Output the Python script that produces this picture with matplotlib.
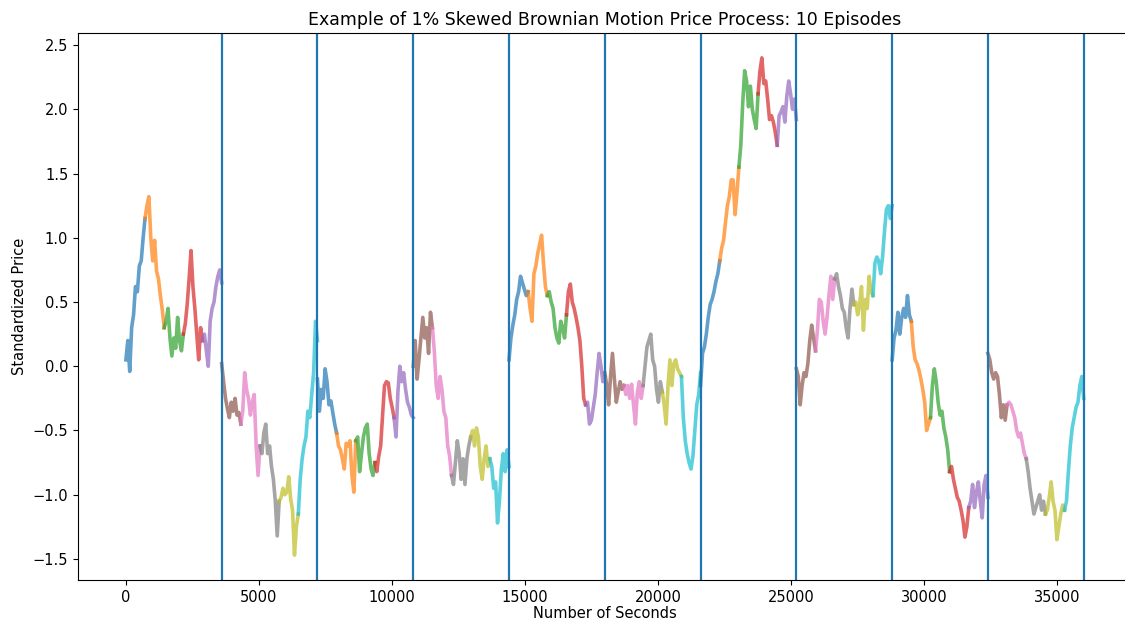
import matplotlib.pyplot as plt
import numpy as np

# standardized price per episode, sampled every 72 s (51 points -> 5 segments of 720 s)
ep1 = [0.05, 0.20, -0.04, 0.30, 0.40, 0.62, 0.58, 0.78, 0.82, 1.00, 1.15,
       1.25, 1.32, 1.00, 0.82, 0.98, 0.74, 0.68, 0.55, 0.44, 0.30,
       0.35, 0.45, 0.22, 0.08, 0.22, 0.14, 0.38, 0.20, 0.12, 0.25,
       0.33, 0.48, 0.68, 0.90, 0.62, 0.45, 0.25, 0.05, 0.30, 0.20,
       0.25, 0.12, 0.00, 0.35, 0.45, 0.50, 0.62, 0.70, 0.75, 0.65]
ep2 = [0.02, -0.12, -0.25, -0.33, -0.40, -0.28, -0.35, -0.25, -0.38, -0.36, -0.45,
       -0.35, -0.05, -0.18, -0.25, -0.38, -0.28, -0.22, -0.62, -0.85, -0.62,
       -0.68, -0.52, -0.45, -0.68, -0.62, -0.78, -0.88, -1.05, -1.32, -1.05,
       -1.02, -0.95, -1.00, -0.98, -0.86, -1.03, -1.12, -1.47, -1.25, -1.15,
       -0.88, -0.72, -0.62, -0.55, -0.35, -0.40, -0.22, -0.05, 0.35, 0.20]
ep3 = [-0.10, -0.35, -0.18, -0.25, -0.02, -0.12, -0.30, -0.27, -0.36, -0.45, -0.52,
       -0.62, -0.65, -0.72, -0.80, -0.60, -0.62, -0.58, -0.85, -0.98, -0.58,
       -0.55, -0.82, -0.68, -0.55, -0.48, -0.45, -0.68, -0.80, -0.85, -0.75,
       -0.82, -0.70, -0.62, -0.38, -0.15, -0.12, -0.13, -0.25, -0.32, -0.40,
       -0.55, -0.20, 0.00, -0.12, -0.05, -0.18, -0.28, -0.32, -0.38, -0.40]
ep4 = [0.00, 0.20, -0.10, 0.05, 0.22, 0.38, 0.22, 0.30, 0.10, 0.42, 0.30,
       0.12, -0.15, -0.25, -0.08, -0.18, -0.35, -0.40, -0.62, -0.70, -0.85,
       -0.92, -0.75, -0.58, -0.68, -0.88, -0.72, -0.92, -0.72, -0.62, -0.55,
       -0.50, -0.62, -0.48, -0.55, -0.78, -0.88, -0.72, -0.62, -0.78, -0.72,
       -0.78, -0.95, -0.90, -1.22, -1.05, -0.80, -0.68, -0.82, -0.65, -0.78]
ep5 = [0.05, 0.22, 0.32, 0.40, 0.52, 0.58, 0.70, 0.65, 0.60, 0.55, 0.58,
       0.45, 0.35, 0.72, 0.78, 0.88, 0.95, 1.02, 0.80, 0.62, 0.55,
       0.58, 0.50, 0.45, 0.30, 0.22, 0.18, 0.35, 0.30, 0.22, 0.40,
       0.58, 0.64, 0.50, 0.45, 0.38, 0.30, 0.20, 0.00, -0.25, -0.30,
       -0.28, -0.45, -0.42, -0.32, -0.22, -0.05, 0.10, 0.00, -0.12, -0.08]
ep6 = [-0.05, -0.15, -0.30, -0.08, 0.10, -0.10, -0.28, -0.20, -0.12, -0.18, -0.15,
       -0.22, -0.15, -0.25, -0.14, -0.30, -0.45, -0.20, -0.12, -0.25, -0.15,
       0.00, 0.15, 0.20, 0.25, 0.05, 0.00, -0.18, -0.28, -0.12, -0.20,
       -0.30, -0.45, -0.15, 0.05, -0.15, 0.02, 0.05, -0.02, -0.05, -0.08,
       -0.40, -0.58, -0.68, -0.75, -0.80, -0.70, -0.50, -0.30, -0.22, -0.05]
ep7 = [-0.15, 0.10, 0.15, 0.25, 0.38, 0.48, 0.52, 0.58, 0.66, 0.72, 0.82,
       0.92, 0.98, 1.12, 1.25, 1.32, 1.45, 1.45, 1.18, 1.35, 1.55,
       1.72, 2.05, 2.30, 2.22, 2.02, 2.18, 2.00, 1.92, 1.85, 2.12,
       2.30, 2.40, 2.20, 2.22, 2.08, 1.92, 1.95, 1.90, 1.82, 1.72,
       1.95, 1.98, 2.02, 1.90, 2.10, 2.22, 2.12, 2.00, 2.08, 1.92]
ep8 = [-0.02, -0.08, -0.30, -0.15, -0.05, -0.08, 0.02, 0.20, 0.32, 0.22, 0.12,
       0.28, 0.52, 0.50, 0.35, 0.25, 0.38, 0.55, 0.70, 0.52, 0.68,
       0.72, 0.62, 0.55, 0.45, 0.42, 0.30, 0.22, 0.45, 0.60, 0.48,
       0.50, 0.40, 0.48, 0.62, 0.28, 0.52, 0.45, 0.70, 0.58, 0.55,
       0.80, 0.85, 0.82, 0.72, 0.85, 1.05, 1.22, 1.25, 1.15, 1.25]
ep9 = [0.05, 0.22, 0.28, 0.42, 0.25, 0.38, 0.45, 0.38, 0.55, 0.40, 0.35,
       0.15, 0.05, 0.02, -0.03, -0.10, -0.18, -0.28, -0.50, -0.45, -0.40,
       -0.15, -0.02, -0.12, -0.28, -0.38, -0.35, -0.48, -0.55, -0.65, -0.82,
       -0.78, -0.88, -0.95, -1.02, -1.05, -1.12, -1.20, -1.33, -1.25, -1.10,
       -1.05, -0.92, -1.10, -0.98, -0.90, -1.05, -1.18, -0.92, -0.85, -1.02]
ep10 = [0.10, 0.05, -0.05, -0.10, -0.05, -0.08, -0.22, -0.40, -0.30, -0.42, -0.30,
        -0.28, -0.30, -0.35, -0.40, -0.50, -0.55, -0.52, -0.60, -0.68, -0.72,
        -0.82, -0.95, -1.05, -1.15, -1.10, -1.05, -1.00, -1.12, -1.05, -1.15,
        -1.12, -1.02, -0.90, -1.05, -1.12, -1.35, -1.25, -1.15, -1.08, -1.12,
        -1.05, -0.82, -0.62, -0.48, -0.40, -0.32, -0.28, -0.15, -0.08, -0.25]

episodes = [ep1, ep2, ep3, ep4, ep5, ep6, ep7, ep8, ep9, ep10]
episode_len = 3600
n_segments = 5

plt.rcParams['font.size'] = 10.5

fig = plt.figure(figsize=(11.25, 6.23), dpi=100)
ax = fig.add_axes([78 / 1125, 43 / 623, 1053.6 / 1125, 547 / 623])

c = 0
for e, ep in enumerate(episodes):
    ep = np.array(ep)
    t = e * episode_len + np.linspace(0, episode_len, len(ep))
    step = (len(ep) - 1) // n_segments
    for j in range(n_segments):
        sl = slice(j * step, (j + 1) * step + 1)
        ax.plot(t[sl], ep[sl], color='C%d' % (c % 10), alpha=0.7, linewidth=2.6)
        c += 1

for e in range(1, len(episodes) + 1):
    ax.axvline(e * episode_len, color='C0', linewidth=1.6)

ax.set_title('Example of 1% Skewed Brownian Motion Price Process: 10 Episodes', fontsize=12.5)
ax.set_xlabel('Number of Seconds', labelpad=1)
ax.set_ylabel('Standardized Price')

fig.savefig('out.png', dpi=100)
